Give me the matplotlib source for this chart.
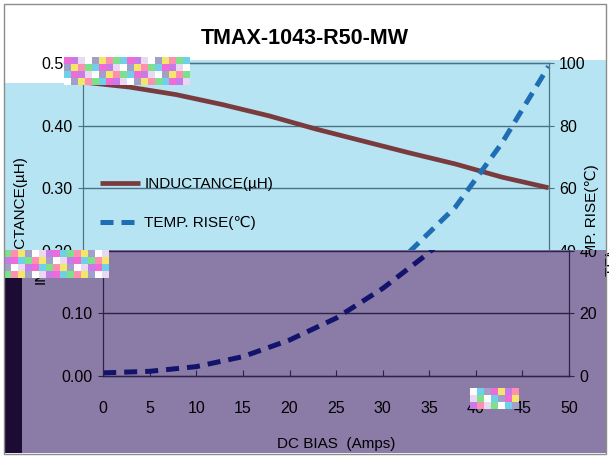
import matplotlib
matplotlib.use("Agg")
from matplotlib import pyplot as plt
from matplotlib.patches import Rectangle
from matplotlib.transforms import Bbox
from matplotlib.text import Text

plt.rcParams['font.family'] = ['Liberation Sans', 'DejaVu Sans']

# data
dc_bias = [0, 5, 10, 15, 20, 25, 30, 35, 40, 45, 50]
inductance = [0.470, 0.462, 0.450, 0.434, 0.416, 0.395, 0.376, 0.357, 0.339, 0.318, 0.301]
temp_rise = [1.0, 1.5, 3.0, 6.2, 11.5, 18.5, 28.0, 39.5, 54.0, 74.5, 99.0]
left_ticks = [0.0, 0.1, 0.2, 0.3, 0.4, 0.5]
left_labels = ["0.00", "0.10", "0.20", "0.30", "0.40", "0.50"]
right_ticks = [0, 20, 40, 60, 80, 100]
x_ticks = [0, 5, 10, 15, 20, 25, 30, 35, 40, 45, 50]

W, H = 609, 457
fig = plt.figure(figsize=(W / 100, H / 100), dpi=100)


def fx(x):
    return x / W


def fy(y):
    return 1 - y / H


def box(x0, y0, x1, y1, color, z=-5):
    r = Rectangle((fx(x0), fy(y1)), fx(x1) - fx(x0), fy(y0) - fy(y1),
                  transform=fig.transFigure, facecolor=color, edgecolor='none', zorder=z)
    fig.add_artist(r)
    return r


light_blue = "#b7e4f2"
purple = "#8b7ba7"
cut = 250  # where the picture turns purple

# backgrounds
box(64, 60, 606, cut, light_blue)
box(4, 83, 64, cut, light_blue)
box(22, cut, 606, 453, purple)
box(4, 278, 22, 453, "#1c0c33")

# the scrambled blocks of the reference image
glitch_cols = ["#f06ad8", "#7de08a", "#f5e66a", "#ffffff", "#c87be8", "#6fd0e8", "#ff8fb0", "#a0a0c8", "#e8d8f0"]
for i in range(18):
    for j in range(4):
        box(64 + i * 7, 57 + j * 7, 71 + i * 7, 64 + j * 7, glitch_cols[(i * 4 + j * 7) % 9], z=5)
for i in range(15):
    for j in range(4):
        box(4 + i * 7, cut + j * 7, 11 + i * 7, cut + 7 + j * 7, glitch_cols[(i * 5 + j * 3 + 1) % 9], z=5)
for i in range(7):
    for j in range(3):
        box(470 + i * 7, 388 + j * 7, 477 + i * 7, 395 + j * 7, glitch_cols[(i * 2 + j * 5 + 3) % 9], z=5)

# frame
fig.add_artist(Rectangle((fx(4), fy(454)), fx(606) - fx(4), fy(4) - fy(454), transform=fig.transFigure,
                         facecolor='none', edgecolor='#8c8c8c', lw=1, zorder=10))

fig.text(fx(305), fy(39), "TMAX-1043-R50-MW", ha='center', va='center', fontsize=15.5, fontweight='bold')


def make_chart(shift, grid_c, ind_c, temp_c, clip):
    left, right, top, bottom = 82.7 + shift, 548.5 + shift, 63.3, 376
    ax = fig.add_axes([fx(left), fy(bottom), fx(right) - fx(left), fy(top) - fy(bottom)])
    ax.patch.set_visible(False)
    ax.set_xlim(0, 50)
    ax.set_ylim(0, 0.5)
    ax.set_xticks(x_ticks)
    ax.set_yticks(left_ticks)
    ax.set_yticklabels(left_labels)
    ax.grid(axis='y', color=grid_c, lw=1)
    ax.set_axisbelow(True)
    ax.tick_params(axis='x', direction='in', length=4.5, pad=18, labelsize=11.5, color=grid_c)
    ax.tick_params(axis='y', direction='out', length=3.6, pad=4, labelsize=11.5, color=grid_c)
    for s in ax.spines.values():
        s.set_color(grid_c)
    ax.set_xlabel("DC BIAS  (Amps)", fontsize=11)
    ax.xaxis.set_label_coords(0.5, -0.195)
    ax.set_ylabel("INDUCTANCE(µH)", fontsize=11)
    ax.yaxis.set_label_coords(-0.12, 0.5)
    l1, = ax.plot(dc_bias, inductance, color=ind_c, lw=3.4, label="INDUCTANCE(µH)", solid_capstyle='butt')

    ax2 = ax.twinx()
    ax2.set_ylim(0, 100)
    ax2.set_yticks(right_ticks)
    ax2.tick_params(axis='y', direction='out', length=3.6, pad=4, labelsize=11.5, color=grid_c)
    for s in ax2.spines.values():
        s.set_color(grid_c)
    ax2.set_ylabel("TEMP. RISE(℃)", fontsize=11, family=['Liberation Sans', 'DejaVu Sans'])
    ax2.yaxis.set_label_coords(1.078, 0.5)
    l2, = ax2.plot(dc_bias, temp_rise, color=temp_c, lw=3.6, ls=(0, (2.6, 1.6)),
                   label="TEMP. RISE(℃)", dash_capstyle='butt')

    fig.canvas.draw()
    r = fig.canvas.get_renderer()
    for a in (ax, ax2):
        for art in a.findobj():
            if art is a:
                continue
            art.set_clip_box(clip)
            if isinstance(art, Text) and art.get_text():
                bb = art.get_window_extent(r)
                if not bb.overlaps(clip):
                    art.set_visible(False)
    l1.set_clip_box(Bbox.intersection(clip, ax.bbox.frozen()))
    l2.set_clip_box(Bbox.intersection(clip, ax.bbox.frozen()))
    return ax, l1, l2


up_clip = Bbox.from_extents(0, H - cut, W, H)
lo_clip = Bbox.from_extents(22, 0, W, H - cut)

ax_up, h1, h2 = make_chart(0, "#4b7383", "#7a3b3f", "#1f6db2", up_clip)
leg = ax_up.legend(handles=[h1, h2], loc='upper left', bbox_to_anchor=(fx(100), fy(177)),
                   bbox_transform=fig.transFigure, frameon=False, fontsize=11, handlelength=2.6,
                   handletextpad=0.3, labelspacing=1.65, borderpad=0, borderaxespad=0)
make_chart(20.5, "#2b2248", "#3a1a30", "#13136b", lo_clip)

fig.savefig("out.png", dpi=100)
